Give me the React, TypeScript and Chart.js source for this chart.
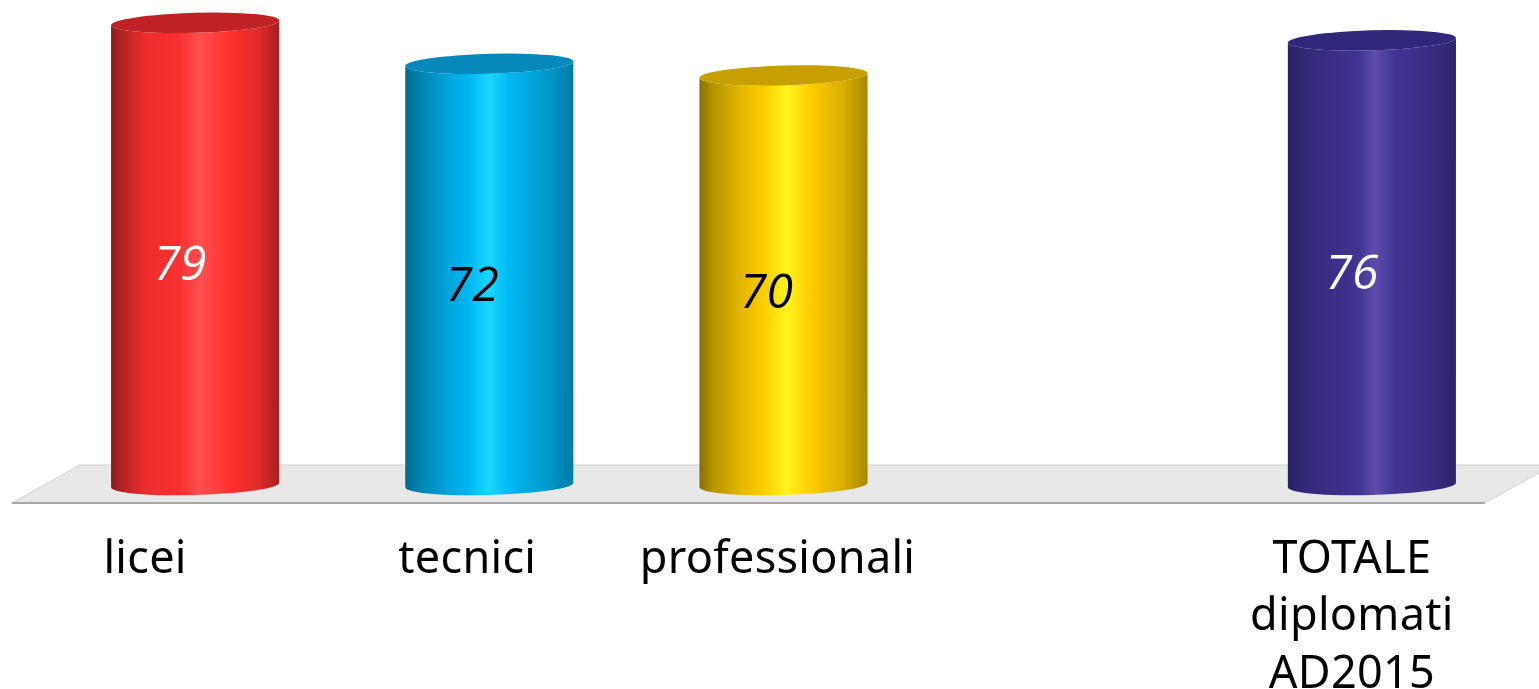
import React, { useEffect, useRef } from "react";
import { Chart, registerables } from "chart.js";

Chart.register(...registerables);

const categories = ["licei", "tecnici", "professionali", "", "TOTALE|diplomati|AD2015"];
const values = [79, 72, 70, null, 76];
const valueColors = ["#ffffff", "#000000", "#000000", "", "#ffffff"];
const topColors = ["#bf2224", "#0688bb", "#c5a000", "", "#30267a"];
const bodyStops: [number, string][][] = [
  [[0, "#8f1a1c"], [0.06, "#b02224"], [0.2, "#ee2c2c"], [0.4, "#f83030"], [0.53, "#ff4e4e"], [0.72, "#ff2e2e"], [0.88, "#e02a2a"], [1, "#a62020"]],
  [[0, "#006a90"], [0.08, "#0082ae"], [0.25, "#00a4da"], [0.38, "#00b8f2"], [0.5, "#1ad6ff"], [0.62, "#00b8f2"], [0.85, "#0098cc"], [1, "#007aa4"]],
  [[0, "#8a6f00"], [0.08, "#b49400"], [0.25, "#e4b800"], [0.38, "#ffcc00"], [0.52, "#fff41e"], [0.66, "#ffcc00"], [0.86, "#d8ae00"], [1, "#a68600"]],
  [],
  [[0, "#2a2366"], [0.1, "#322878"], [0.3, "#3b2f88"], [0.42, "#413494"], [0.52, "#5e4cac"], [0.64, "#413494"], [0.86, "#382c80"], [1, "#2c2468"]],
];

const VALUE_DX = [-15, -17, -17, 0, -20];
const VALUE_CY = [266, 287, 294, 0, 275];
const LABEL_DX = [-50, -22, -6, 0, -20];
const FIRST_LINE_CY = 560;
const LINE_GAP = 57.5;
const ELLIPSE_RY = 10;
const TILT = -0.028;

const cylinders = {
  id: "cylinders",
  beforeDatasetsDraw(chart: any) {
    const { ctx, chartArea } = chart;
    const b = chartArea.bottom;
    ctx.save();
    ctx.beginPath();
    ctx.moveTo(80, b - 20);
    ctx.lineTo(1553, b - 20);
    ctx.lineTo(1485, b + 18);
    ctx.lineTo(12, b + 18);
    ctx.closePath();
    ctx.fillStyle = "#e8e8e8";
    ctx.fill();
    ctx.strokeStyle = "#d0d0d0";
    ctx.lineWidth = 1;
    ctx.stroke();
    ctx.beginPath();
    ctx.moveTo(12, b + 18);
    ctx.lineTo(1485, b + 18);
    ctx.strokeStyle = "#a8a8a8";
    ctx.lineWidth = 2;
    ctx.stroke();

    const meta = chart.getDatasetMeta(0);
    meta.data.forEach((bar: any, i: number) => {
      if (values[i] == null) return;
      const rx = bar.width / 2;
      const grad = ctx.createLinearGradient(bar.x - rx, 0, bar.x + rx, 0);
      bodyStops[i].forEach(([o, c]) => grad.addColorStop(o, c));
      const dy = Math.sin(TILT) * rx;
      ctx.beginPath();
      ctx.moveTo(bar.x - rx, bar.y - dy);
      ctx.lineTo(bar.x - rx, bar.base - dy);
      ctx.ellipse(bar.x, bar.base, rx, ELLIPSE_RY, TILT, Math.PI, 0, true);
      ctx.lineTo(bar.x + rx, bar.y + dy);
      ctx.ellipse(bar.x, bar.y, rx, ELLIPSE_RY, TILT, 0, Math.PI, false);
      ctx.closePath();
      ctx.fillStyle = grad;
      ctx.fill();
      ctx.beginPath();
      ctx.ellipse(bar.x, bar.y, rx, ELLIPSE_RY, TILT, 0, Math.PI * 2);
      ctx.fillStyle = topColors[i];
      ctx.fill();
    });
    ctx.restore();
  },
  afterDatasetsDraw(chart: any) {
    const { ctx } = chart;
    const x = chart.scales.x;
    ctx.save();
    ctx.textAlign = "center";
    ctx.textBaseline = "middle";
    categories.forEach((label, i) => {
      const px = x.getPixelForValue(i);
      if (values[i] != null) {
        ctx.font = "italic 500 48px 'Open Sans'";
        ctx.fillStyle = valueColors[i];
        ctx.fillText(String(values[i]), px + VALUE_DX[i], VALUE_CY[i]);
      }
      ctx.font = "45px 'Noto Sans'";
      ctx.letterSpacing = "0.3px";
      ctx.fillStyle = "#000000";
      label.split("|").forEach((line, k) => {
        ctx.fillText(line, px + LABEL_DX[i], FIRST_LINE_CY + k * LINE_GAP);
      });
      ctx.letterSpacing = "0px";
    });
    ctx.restore();
  },
};

export default function App() {
  const ref = useRef<HTMLCanvasElement>(null);
  useEffect(() => {
    const chart = new Chart(ref.current!, {
      type: "bar",
      data: {
        labels: categories.map((c) => c.replace(/\|/g, " ")),
        datasets: [
          {
            data: values,
            backgroundColor: "rgba(0,0,0,0)",
            categoryPercentage: 1,
            barPercentage: 168 / 294,
          },
        ],
      },
      options: {
        responsive: false,
        animation: false,
        devicePixelRatio: 1,
        layout: { padding: { left: 48, right: 20, top: 0, bottom: 204 } },
        plugins: { legend: { display: false }, tooltip: { enabled: false } },
        scales: {
          x: { display: false },
          y: { display: false, min: 0, max: 82.9 },
        },
      },
      plugins: [cylinders],
    });
    return () => chart.destroy();
  }, []);
  return (
    <canvas
      ref={ref}
      width={1539}
      height={689}
      style={{ position: "fixed", left: 0, top: 0, width: 1539, height: 689, display: "block" }}
    />
  );
}
